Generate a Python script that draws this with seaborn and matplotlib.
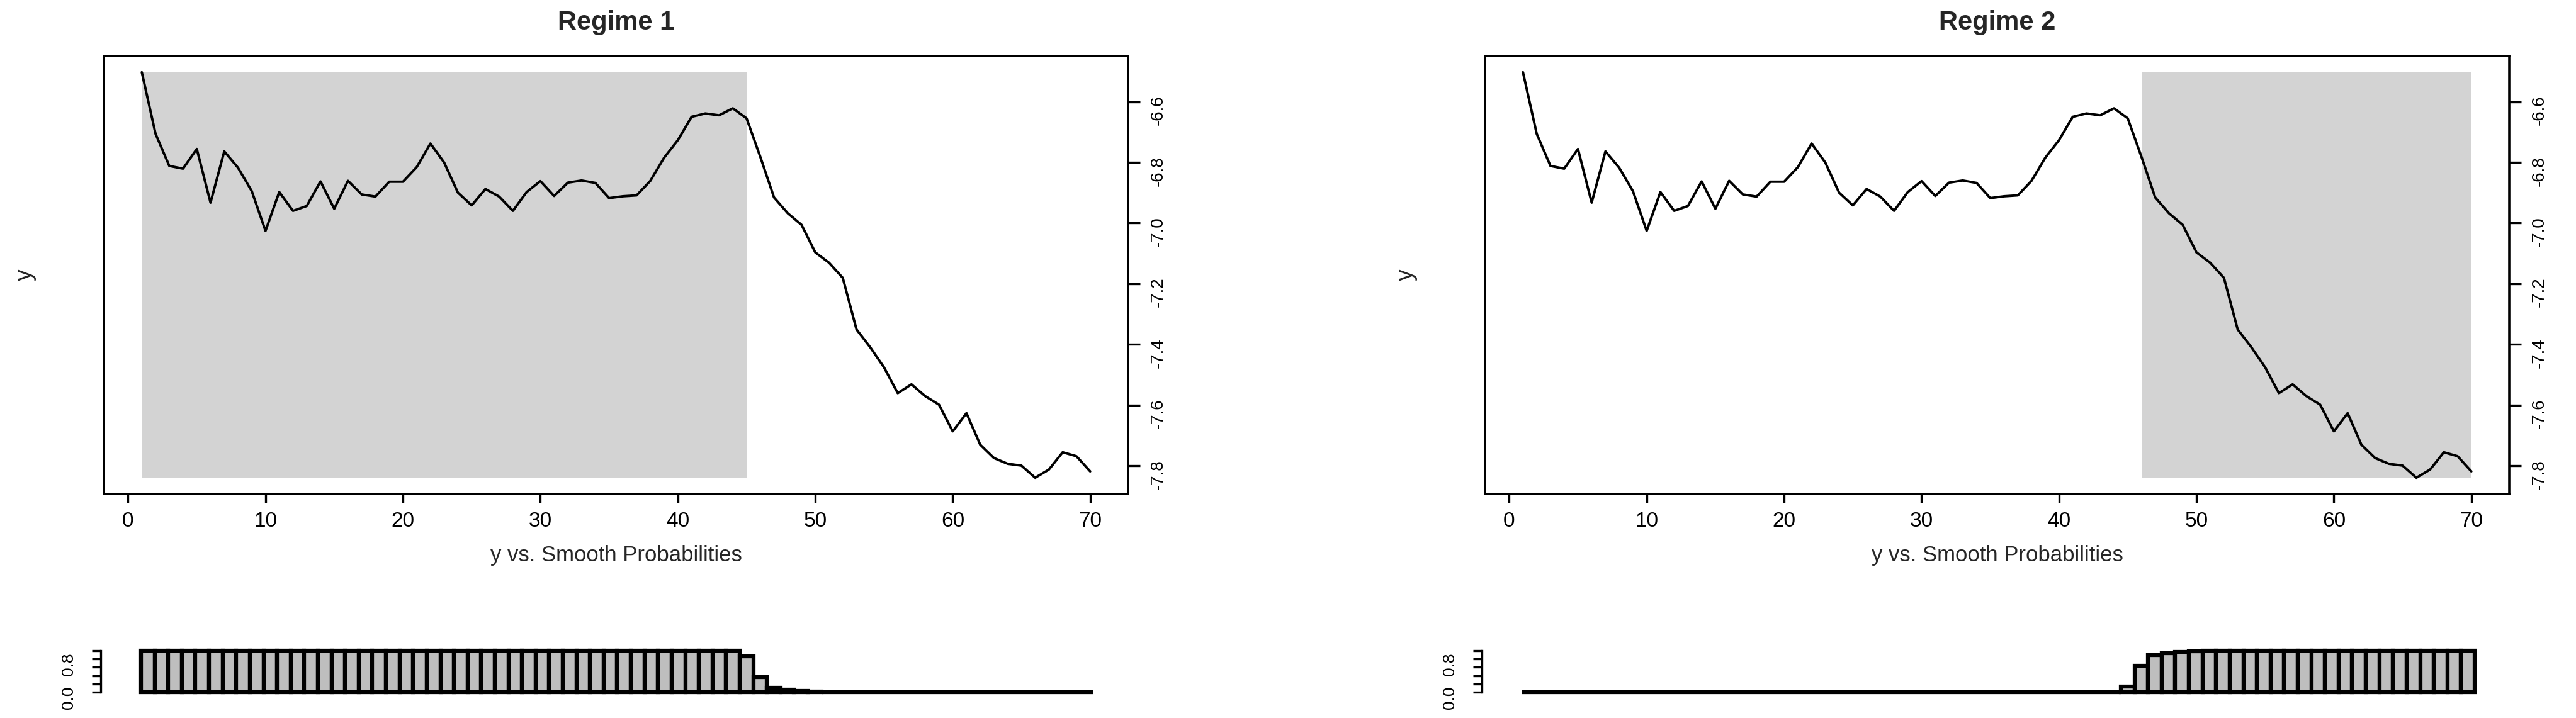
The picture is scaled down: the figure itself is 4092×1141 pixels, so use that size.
import numpy as np
import pandas as pd
import matplotlib
matplotlib.use("Agg")
import matplotlib.pyplot as plt
import seaborn as sns

obs = np.arange(1, 71)
y_vals = [-6.503, -6.706, -6.812, -6.821, -6.756, -6.933, -6.764, -6.818, -6.895, -7.026,
          -6.898, -6.960, -6.944, -6.863, -6.953, -6.861, -6.906, -6.913, -6.864, -6.864,
          -6.816, -6.738, -6.801, -6.900, -6.942, -6.888, -6.913, -6.960, -6.898, -6.862,
          -6.911, -6.867, -6.860, -6.868, -6.918, -6.912, -6.909, -6.861, -6.785, -6.727,
          -6.650, -6.639, -6.645, -6.622, -6.655, -6.782, -6.916, -6.968, -7.006, -7.097,
          -7.131, -7.181, -7.351, -7.410, -7.476, -7.561, -7.532, -7.571, -7.599, -7.687,
          -7.627, -7.731, -7.775, -7.794, -7.800, -7.840, -7.813, -7.756, -7.769, -7.819]

# smoothed probabilities of each regime
prob_regime1 = [1.0] * 44 + [0.86, 0.36, 0.10, 0.055, 0.025, 0.01] + [0.0] * 20
prob_regime2 = [0.0] * 44 + [0.14, 0.64, 0.89, 0.945, 0.975, 0.99] + [1.0] * 20

regime_titles = ["Regime 1", "Regime 2"]
xlabel_text = "y vs. Smooth Probabilities"
x_ticks = [0, 10, 20, 30, 40, 50, 60, 70]
y_ticks = [-7.8, -7.6, -7.4, -7.2, -7.0, -6.8, -6.6]
prob_ticks = [0.0, 0.2, 0.4, 0.6, 0.8, 1.0]
prob_ticklabels = ["0.0", "", "", "", "0.8", ""]

W, H = 4092, 1141
sns.set_style("white")
plt.rcParams["font.family"] = ["Liberation Sans", "DejaVu Sans"]
plt.rcParams["axes.unicode_minus"] = False

fig = plt.figure(figsize=(W / 100, H / 100), dpi=100)


def add_axes_px(left, top, right, bottom):
    return fig.add_axes([left / W, 1 - bottom / H, (right - left) / W, (bottom - top) / H])


df = pd.DataFrame({"obs": obs, "y": y_vals})
x_pad = 0.04 * (obs.max() - obs.min())
y_lo, y_hi = min(y_vals), max(y_vals)
y_pad = 0.04 * (y_hi - y_lo)

panel_shift = 2194
# bar strip: bars run from px 224 to 1737, the axes a bit wider for the y axis line
bar_unit = (1737 - 224) / len(obs)

for k, (title, probs) in enumerate(zip(regime_titles, [prob_regime1, prob_regime2])):
    dx = k * panel_shift
    probs = np.asarray(probs)

    # --- main panel ---
    ax = add_axes_px(165 + dx, 89, 1792 + dx, 785)
    in_regime = obs[probs > 0.5]
    ax.fill_between([in_regime.min(), in_regime.max()], y_lo, y_hi,
                    color="#D3D3D3", lw=0, zorder=0)
    sns.lineplot(data=df, x="obs", y="y", color="black", linewidth=2.8, ax=ax, zorder=2)

    ax.set_xlim(obs.min() - x_pad, obs.max() + x_pad)
    ax.set_ylim(y_lo - y_pad, y_hi + y_pad)
    ax.set_xticks(x_ticks)
    ax.set_yticks(y_ticks, [f"{v:.1f}" for v in y_ticks])
    ax.yaxis.tick_right()
    ax.tick_params(axis="x", bottom=True, top=False, direction="out", length=10, width=2.4,
                   pad=10, labelsize=24, colors="black")
    ax.tick_params(axis="y", left=False, right=True, labelleft=False, labelright=True,
                   direction="out", length=14, width=2.4, pad=11, labelsize=20,
                   labelrotation=90, colors="black")
    for sp in ax.spines.values():
        sp.set_visible(True)
        sp.set_color("black")
        sp.set_linewidth(2.6)

    ax.set_title(title, fontsize=30, fontweight="bold", pad=30)
    ax.set_xlabel(xlabel_text, fontsize=25, labelpad=16)
    ax.set_ylabel("y", fontsize=27)
    ax.yaxis.set_label_position("left")
    ax.yaxis.set_label_coords(-0.066, 0.5)

    # --- probability strip ---
    bx = add_axes_px(160 + dx, 1034, 1745 + dx, 1100)
    sns.barplot(x=obs, y=probs, native_scale=True, width=1, color="#BEBEBE", saturation=1,
                edgecolor="black", linewidth=4.5, ax=bx)
    for p in bx.patches:
        p.set_clip_on(False)
    bx.set_xlim(obs.min() - 0.5 - (224 - 160) / bar_unit,
                obs.max() + 0.5 + (1745 - 1737) / bar_unit)
    bx.set_ylim(0, 1)
    bx.set_xticks([])
    bx.set_yticks(prob_ticks, prob_ticklabels)
    bx.set_xlabel("")
    bx.set_ylabel("")
    for name in ["top", "right", "bottom"]:
        bx.spines[name].set_visible(False)
    bx.spines["left"].set_color("black")
    bx.spines["left"].set_linewidth(2.4)
    bx.spines["left"].set_bounds(0, 1)
    bx.tick_params(axis="y", left=True, direction="out", length=10, width=2.4, pad=18,
                   labelsize=19, labelrotation=90, colors="black")
    bx.patch.set_alpha(0)

fig.savefig("out.png", dpi=100, facecolor="white")
